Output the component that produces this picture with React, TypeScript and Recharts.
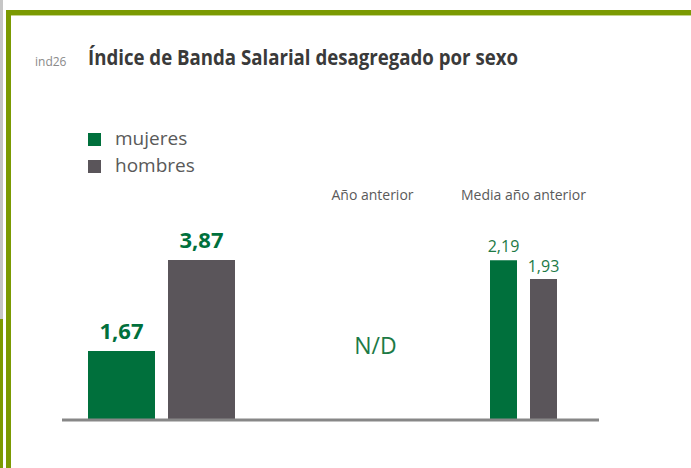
import { BarChart, Bar, XAxis, YAxis, Legend, LabelList, ReferenceDot } from 'recharts';

const grupos = ['actual', 'Año anterior', 'Media año anterior'];
const cabeceras = ['', 'Año anterior', 'Media año anterior'];
const series = ['mujeres', 'hombres'];
const mujeres = [1.67, null, null];
const hombres = [3.87, null, null];
const mujeresMedia = [null, null, 2.19];
const hombresMedia = [null, null, 1.93];
const sinDatos = 'N/D';
const sinDatosAltura = 1.8;

const data = grupos.map((grupo, i) => ({
  grupo,
  mujeres: mujeres[i],
  hombres: hombres[i],
  mujeresMedia: mujeresMedia[i],
  hombresMedia: hombresMedia[i],
}));

const VERDE = '#00703c';
const GRIS = '#5a555a';
const OLIVA = '#7b9a02';
const FONT = '"Open Sans", "Noto Sans", sans-serif';

const fmt = (v: any) => (v == null ? '' : Number(v).toFixed(2).replace('.', ','));

function LegendContent({ payload }: any) {
  const items = series
    .map((s) => (payload || []).find((p: any) => p.value === s))
    .filter(Boolean);
  return (
    <div style={{ fontFamily: FONT }}>
      {items.map((entry: any) => (
        <div key={entry.value} style={{ display: 'flex', alignItems: 'center', height: 27 }}>
          <span style={{ width: 13, height: 13, background: entry.color, marginRight: 14, marginTop: 2 }} />
          <span style={{ fontSize: 19, color: '#595959', lineHeight: '27px' }}>{entry.value}</span>
        </div>
      ))}
    </div>
  );
}

export default function App() {
  return (
    <div style={{ position: 'absolute', left: 0, top: 0, width: 691, height: 468, background: '#fff', overflow: 'hidden' }}>
      {/* marco */}
      <div style={{ position: 'absolute', left: 0, top: 0, width: 3, height: 319, background: '#c6c6c6' }} />
      <div style={{ position: 'absolute', left: 0, top: 319, width: 3, height: 149, background: OLIVA }} />
      <div style={{ position: 'absolute', left: 6, top: 10, width: 5, height: 458, background: OLIVA }} />
      <div style={{ position: 'absolute', left: 6, top: 10, width: 685, height: 5, background: OLIVA }} />
      <div style={{ position: 'absolute', left: 11, top: 15, width: 680, height: 1, background: '#c5d38a' }} />

      <svg width={691} height={90} style={{ position: 'absolute', left: 0, top: 0 }}>
        <text x={35} y={66} fontFamily={FONT} fontSize={12} fill="#8a8a8a">ind26</text>
        <text
          x={88}
          y={65}
          fontFamily={FONT}
          fontSize={21}
          fontWeight={700}
          fill="#3a3a3a"
          textLength={430}
          lengthAdjust="spacingAndGlyphs"
        >
          Índice de Banda Salarial desagregado por sexo
        </text>
      </svg>

      <div style={{ position: 'absolute', left: 0, top: 0 }}>
        <BarChart
          width={691}
          height={468}
          data={data}
          barGap={13}
          margin={{ top: 190, right: 92, bottom: 47, left: 62 }}
          style={{ fontFamily: FONT }}
        >
          <XAxis
            xAxisId="main"
            dataKey="grupo"
            padding={{ left: 12, right: 0 }}
            tick={false}
            tickLine={false}
            axisLine={{ stroke: '#878787', strokeWidth: 3 }}
            height={1}
          />
          <XAxis
            xAxisId="media"
            orientation="top"
            dataKey="grupo"
            padding={{ left: 84, right: 0 }}
            axisLine={false}
            tickLine={false}
            tickSize={0}
            tickMargin={20}
            height={30}
            interval={0}
            tickFormatter={(_v: any, i: number) => cabeceras[i]}
            tick={{ fill: '#5a5a5a', fontSize: 14 }}
          />
          <YAxis yAxisId="main" hide domain={[0, 4.84]} allowDataOverflow />
          <YAxis yAxisId="media" hide domain={[0, 2.74]} allowDataOverflow />
          <Legend
            layout="vertical"
            align="center"
            verticalAlign="middle"
            content={<LegendContent />}
            wrapperStyle={{ left: 88, top: 125, width: 'auto' }}
          />
          <Bar dataKey="mujeres" name="mujeres" xAxisId="main" yAxisId="main" fill={VERDE} barSize={67} isAnimationActive={false}>
            <LabelList dataKey="mujeres" position="top" offset={12} formatter={fmt} fill={VERDE} fontSize={22} fontWeight={700} />
          </Bar>
          <Bar dataKey="hombres" name="hombres" xAxisId="main" yAxisId="main" fill={GRIS} barSize={67} isAnimationActive={false}>
            <LabelList dataKey="hombres" position="top" offset={12} formatter={fmt} fill={VERDE} fontSize={22} fontWeight={700} />
          </Bar>
          <Bar dataKey="mujeresMedia" xAxisId="media" yAxisId="media" fill={VERDE} barSize={27} legendType="none" isAnimationActive={false}>
            <LabelList dataKey="mujeresMedia" position="top" offset={8} formatter={fmt} fill="#1d7a46" fontSize={16} />
          </Bar>
          <Bar dataKey="hombresMedia" xAxisId="media" yAxisId="media" fill={GRIS} barSize={27} legendType="none" isAnimationActive={false}>
            <LabelList dataKey="hombresMedia" position="top" offset={7} formatter={fmt} fill="#1d7a46" fontSize={16} />
          </Bar>
          <ReferenceDot
            xAxisId="media"
            yAxisId="main"
            x="Año anterior"
            y={sinDatosAltura}
            r={0}
            label={{ value: sinDatos, position: 'center', fill: '#1d7a46', fontSize: 23, dx: 3 }}
          />
        </BarChart>
      </div>
    </div>
  );
}
